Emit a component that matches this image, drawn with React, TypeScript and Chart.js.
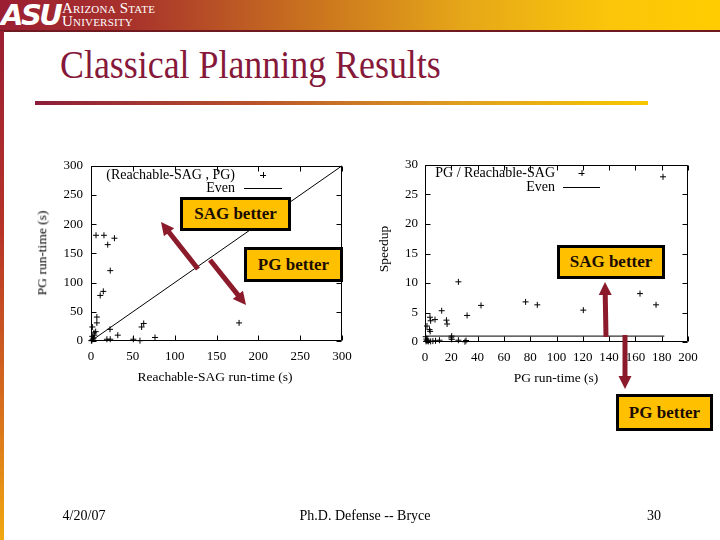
import React, { useEffect, useRef } from "react";
import { Chart, registerables } from "chart.js";
Chart.register(...registerables);

// ---------- Left plot: (Reachable-SAG run-time, PG run-time) ----------
const sagRunTime = [1, 2, 3, 1.6, 3.6, 5.6, 7, 7, 11, 14.7, 6, 15.5, 20, 28, 23, 22.7, 32, 19, 23, 50.6, 58.5, 60.5, 63, 76.5, 177, 0.5, 1.5, 4];
const pgRunTime = [1, 3, 5, 24, 14, 16, 31, 41, 78, 85, 181, 181, 165, 176, 120.5, 20, 10, 3, 3, 3, 0.5, 24, 30, 6, 31, 0.5, 8, 10];
const evenLeftX = [0, 300];
const evenLeftY = [0, 300];
const leftXTicks = [0, 50, 100, 150, 200, 250, 300];
const leftYTicks = [0, 50, 100, 150, 200, 250, 300];
const leftSeriesLabel = "(Reachable-SAG , PG)";

// ---------- Right plot: (PG run-time, speedup PG / Reachable-SAG) ----------
const pgRunTimeR = [181, 25.4, 76.5, 85.4, 42.6, 120.4, 163.5, 175.7, 12.7, 32, 16.3, 16.8, 3.8, 4.3, 7.6, 1.5, 3.4, 3.9, 0.5, 1, 1.5, 2.5, 4.3, 6, 8, 11, 20.3, 20.3, 25.4, 30.4, 31.2, 2, 0.8, 20];
const speedup = [28, 10.2, 6.8, 6.3, 6.2, 5.4, 8.2, 6.3, 5.3, 4.5, 3.7, 3.05, 4.2, 3.6, 3.8, 2.7, 2.1, 1.8, 0.9, 0.5, 0.2, 0.1, 0.1, 0.15, 0.2, 0.3, 1.0, 0.45, 0.3, 0.05, 0.25, 0.3, 0.1, 0.7];
const evenRightX = [0, 182];
const evenRightY = [1, 1];
const rightXTicks = [0, 20, 40, 60, 80, 100, 120, 140, 160, 180, 200];
const rightYTicks = [0, 5, 10, 15, 20, 25, 30];
const rightSeriesLabel = "PG / Reachable-SAG";
const evenLabel = "Even";

const SERIF = '"Liberation Serif", "Times New Roman", serif';

const gnuplotDecor = {
  id: "gnuplotDecor",
  afterDatasetsDraw(chart: any, _args: any, opts: any) {
    const { ctx, chartArea: a, scales } = chart;
    ctx.save();
    ctx.strokeStyle = "#000";
    ctx.lineWidth = 1;
    const L = Math.round(a.left) + 0.5;
    const R = Math.round(a.right) - 0.5;
    const T = Math.round(a.top) + 0.5;
    const B = Math.round(a.bottom) - 0.5;
    ctx.beginPath();
    ctx.rect(L, T, R - L, B - T);
    const tl = 5;
    scales.x.ticks.forEach((t: any) => {
      const px = Math.round(scales.x.getPixelForValue(t.value)) + 0.5;
      ctx.moveTo(px, B); ctx.lineTo(px, B - tl);
      ctx.moveTo(px, T); ctx.lineTo(px, T + tl);
    });
    scales.y.ticks.forEach((t: any) => {
      const py = Math.round(scales.y.getPixelForValue(t.value)) + 0.5;
      ctx.moveTo(L, py); ctx.lineTo(L + tl, py);
      ctx.moveTo(R, py); ctx.lineTo(R - tl, py);
    });
    ctx.stroke();

    // gnuplot-style key: text right-aligned, sample on the right
    ctx.font = `${opts.fontSize}px ${SERIF}`;
    ctx.fillStyle = "#000";
    ctx.textAlign = "right";
    ctx.textBaseline = "middle";
    chart.data.datasets.forEach((ds: any, i: number) => {
      const y = opts.rows[i];
      ctx.fillText(ds.label, opts.textRight, y);
      ctx.beginPath();
      if (ds.showLine) {
        ctx.moveTo(opts.lineFrom, y + 0.5);
        ctx.lineTo(opts.lineTo, y + 0.5);
      } else {
        const cx = (opts.lineFrom + opts.lineTo) / 2;
        ctx.moveTo(cx - 3, y + 0.5); ctx.lineTo(cx + 3, y + 0.5);
        ctx.moveTo(cx + 0.5, y - 3); ctx.lineTo(cx + 0.5, y + 3);
      }
      ctx.stroke();
    });
    ctx.restore();
  },
};

function makeConfig(p: any) {
  const tickFont = { family: SERIF, size: 13 };
  return {
    type: "scatter",
    data: {
      datasets: [
        {
          label: p.seriesLabel,
          data: p.xs.map((x: number, i: number) => ({ x, y: p.ys[i] })),
          pointStyle: "cross",
          pointRadius: 3,
          pointBorderWidth: 1,
          borderColor: "#000",
          backgroundColor: "#000",
          showLine: false,
          clip: false,
        },
        {
          label: evenLabel,
          data: p.evenX.map((x: number, i: number) => ({ x, y: p.evenY[i] })),
          showLine: true,
          pointRadius: 0,
          borderColor: "#000",
          borderWidth: 1,
          clip: false,
        },
      ],
    },
    options: {
      animation: false,
      responsive: false,
      maintainAspectRatio: false,
      events: [],
      layout: { padding: { top: p.padTop, right: p.padRight, left: 0, bottom: 0 } },
      plugins: {
        legend: { display: false },
        tooltip: { enabled: false },
        gnuplotDecor: p.key,
      },
      scales: {
        x: {
          type: "linear",
          min: p.xTicks[0],
          max: p.xTicks[p.xTicks.length - 1],
          afterBuildTicks: (s: any) => { s.ticks = p.xTicks.map((v: number) => ({ value: v })); },
          afterFit: (s: any) => { s.height = p.xAxisH; },
          grid: { display: false, drawTicks: false, tickLength: 0 },
          border: { display: false },
          ticks: { font: tickFont, color: "#000", padding: p.xPad, maxRotation: 0, autoSkip: false },
        },
        y: {
          type: "linear",
          min: p.yTicks[0],
          max: p.yTicks[p.yTicks.length - 1],
          afterBuildTicks: (s: any) => { s.ticks = p.yTicks.map((v: number) => ({ value: v })); },
          afterFit: (s: any) => { s.width = p.yAxisW; },
          grid: { display: false, drawTicks: false, tickLength: 0 },
          border: { display: false },
          ticks: { font: tickFont, color: "#000", padding: p.yPad, autoSkip: false },
        },
      },
    },
    plugins: [gnuplotDecor],
  };
}

function Panel(props: any) {
  const ref = useRef<HTMLCanvasElement | null>(null);
  useEffect(() => {
    if (!ref.current) return;
    const chart = new Chart(ref.current, makeConfig(props.cfg) as any);
    return () => chart.destroy();
  }, []);
  return (
    <canvas
      ref={ref}
      width={props.w}
      height={props.h}
      style={{ position: "absolute", left: props.x, top: props.y, width: props.w, height: props.h }}
    />
  );
}

function Arrow({ x1, y1, x2, y2 }: any) {
  const dx = x2 - x1, dy = y2 - y1;
  const len = Math.hypot(dx, dy);
  const ux = dx / len, uy = dy / len;
  const hl = 13, hw = 6.5;
  const bx = x2 - ux * hl, by = y2 - uy * hl;
  const pts = `${x2},${y2} ${bx - uy * hw},${by + ux * hw} ${bx + uy * hw},${by - ux * hw}`;
  return (
    <g>
      <line x1={x1} y1={y1} x2={bx + ux * 1} y2={by + uy * 1} stroke="#8b1a2b" strokeWidth={5} />
      <polygon points={pts} fill="#8b1a2b" />
    </g>
  );
}

function Box({ x, y, w, h, text }: any) {
  return (
    <div
      style={{
        position: "absolute", left: x, top: y, width: w, height: h, boxSizing: "border-box",
        background: "#ffc000", border: "3px solid #000", display: "flex", alignItems: "center",
        justifyContent: "center", fontFamily: SERIF, fontWeight: "bold", fontSize: 17, color: "#1a0c00",
        whiteSpace: "nowrap",
      }}
    >
      {text}
    </div>
  );
}

function Label({ cx, cy, text, rotate, size }: any) {
  return (
    <div
      style={{
        position: "absolute", left: cx, top: cy, transform: `translate(-50%, -50%)${rotate ? " rotate(-90deg)" : ""}`,
        fontFamily: SERIF, fontSize: size || 13.5, color: "#000", whiteSpace: "nowrap", lineHeight: 1,
      }}
    >
      {text}
    </div>
  );
}

export default function App() {
  const leftCfg = {
    xs: sagRunTime, ys: pgRunTime, evenX: evenLeftX, evenY: evenLeftY,
    xTicks: leftXTicks, yTicks: leftYTicks, seriesLabel: leftSeriesLabel,
    padTop: 15, padRight: 18, xAxisH: 49, yAxisW: 61, xPad: 8, yPad: 8,
    key: { fontSize: 14, rows: [25, 38], textRight: 205, lineFrom: 214, lineTo: 252 },
  };
  const rightCfg = {
    xs: pgRunTimeR, ys: speedup, evenX: evenRightX, evenY: evenRightY,
    xTicks: rightXTicks, yTicks: rightYTicks, seriesLabel: rightSeriesLabel,
    padTop: 15, padRight: 18, xAxisH: 48, yAxisW: 55, xPad: 8, yPad: 7,
    key: { fontSize: 14, rows: [23, 37], textRight: 185, lineFrom: 193, lineTo: 230 },
  };
  return (
    <div style={{ position: "absolute", left: 0, top: 0, width: 720, height: 540, background: "#fff", overflow: "hidden" }}>
      {/* header band */}
      <div style={{ position: "absolute", left: 0, top: 0, width: 720, height: 31,
        background: "linear-gradient(to right, #9b1e32 0%, #a8322c 18%, #c8701f 42%, #e6a818 65%, #fbc60a 85%, #ffcc00 100%)" }} />
      <div style={{ position: "absolute", left: 0, top: 30, width: 720, height: 2, background: "#6e1a20" }} />
      <div style={{ position: "absolute", left: 0, top: 31, width: 4, height: 509,
        background: "linear-gradient(to bottom, #9b1e32 0%, #b83428 40%, #d8701c 75%, #f0a810 100%)" }} />
      <div style={{ position: "absolute", left: 1, top: 0, fontFamily: '"DejaVu Sans", sans-serif', fontWeight: "bold",
        fontStyle: "italic", fontSize: 29, color: "#fff", letterSpacing: -2.5, lineHeight: "31px" }}>ASU</div>
      <div style={{ position: "absolute", left: 62, top: 2, fontFamily: SERIF, fontSize: 15, color: "#fff",
        fontVariant: "small-caps", lineHeight: "13px", letterSpacing: 0.2 }}>
        Arizona State<br />University
      </div>

      {/* title */}
      <div style={{ position: "absolute", left: 60, top: 45, fontFamily: SERIF, fontSize: 39, lineHeight: "40px",
        color: "#86183a", whiteSpace: "nowrap", transform: "scaleX(0.92)", transformOrigin: "left top" }}>
        Classical Planning Results
      </div>
      <div style={{ position: "absolute", left: 35, top: 101, width: 613, height: 4,
        background: "linear-gradient(to right, #8c1d3a 0%, #b8502a 35%, #e0a020 70%, #f5c800 100%)" }} />

      {/* charts */}
      <Panel x={30} y={150} w={330} h={240} cfg={leftCfg} />
      <Panel x={370} y={150} w={336} h={240} cfg={rightCfg} />

      {/* axis titles */}
      <Label cx={42} cy={253} text="PG run-time (s)" rotate />
      <Label cx={215} cy={377} text="Reachable-SAG run-time (s)" />
      <Label cx={384} cy={249} text="Speedup" rotate />
      <Label cx={556} cy={378} text="PG run-time (s)" />

      {/* annotations */}
      <svg width={720} height={540} style={{ position: "absolute", left: 0, top: 0 }}>
        <Arrow x1={198} y1={269} x2={161} y2={222} />
        <Arrow x1={210} y1={260} x2={246} y2={305} />
        <Arrow x1={606} y1={337} x2={605} y2={282} />
        <Arrow x1={625} y1={335} x2={625} y2={389} />
      </svg>
      <Box x={180} y={197} w={111} h={34} text="SAG better" />
      <Box x={244} y={247} w={99} h={35} text="PG better" />
      <Box x={557} y={245} w={108} h={34} text="SAG better" />
      <Box x={616} y={394} w={97} h={37} text="PG better" />

      {/* footer */}
      <Label cx={84} cy={516} text="4/20/07" size={14} />
      <Label cx={365} cy={516} text="Ph.D. Defense -- Bryce" size={14} />
      <Label cx={654} cy={516} text="30" size={14} />
    </div>
  );
}
